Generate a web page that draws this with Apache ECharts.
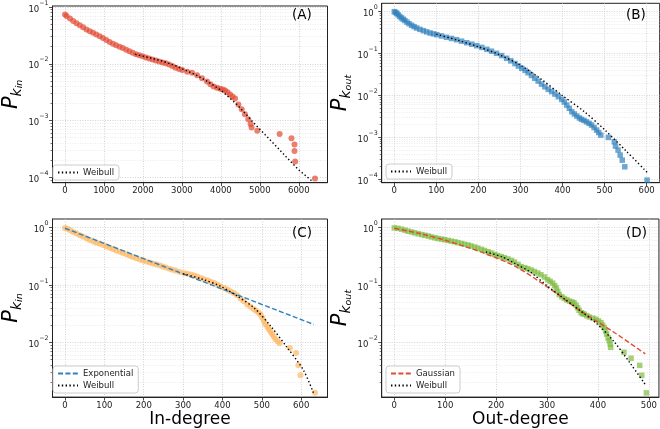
<!DOCTYPE html>
<html><head><meta charset="utf-8">
<script src="https://cdn.jsdelivr.net/npm/echarts@6/dist/echarts.min.js"></script>
<style>html,body{margin:0;padding:0;background:#fff}#c{width:660px;height:429px}</style>
</head><body><div id="c"></div>
<script>
// ---------- Panel A: in-degree (large) ----------
const degA = [0,40,127,210,295,380,465,550,636,720,804,890,974,1060,1144,1230,1312,1400,1482,1570,1653,1735,1820,1905,1991,2075,2161,2245,2329,2415,2499,2585,2670,2755,2838,2925,3008,3135,3260,3389,3515,3643,3730,3814,3900,3982,4050,4109,4170,4236,4300,4364,4449,4534,4617,4704,4762,4788,4933,5507,5812,5889,5889,5906,6415];
const probA = [0.0736,0.0692,0.0627,0.0569,0.0520,0.0476,0.0438,0.0403,0.0373,0.0351,0.0327,0.0305,0.0285,0.0263,0.0243,0.0225,0.0211,0.0200,0.0189,0.0177,0.0166,0.0156,0.0147,0.0141,0.0136,0.0129,0.0124,0.0119,0.0114,0.0110,0.01054,0.0102,0.00973,0.00912,0.00853,0.00813,0.00778,0.00724,0.00692,0.00631,0.00556,0.00488,0.00437,0.00399,0.00380,0.00365,0.00351,0.00337,0.00316,0.00287,0.00266,0.00244,0.00192,0.00158,0.00129,0.00106,0.000867,0.000757,0.00066,0.00058,0.00049,0.00038,0.00029,0.00019,0.000095];
const weibAx = [1800,2150,2500,2820,3135,3370,3600,3790,3982,4190,4400,4620,4831,5040,5250,5460,5678,6000,6357];
const weibAy = [0.0147,0.0129,0.0112,0.00933,0.00746,0.00631,0.00513,0.00427,0.0035,0.00263,0.00195,0.00135,0.000923,0.000661,0.000468,0.000331,0.000229,0.000135,0.0000841];

// ---------- Panel B: out-degree (large) ----------
const degB = [0,3,6,9,13,17,21,25,30,35,41,47,53,61,69,77,85,93,101,112,124,136,148,160,172,184,196,208,220,231,243,255,267,277,287,295,303,311,318,326,334,342,350,358,366,374,382,390,398,404,410,416,422,428,434,440,445,451,457,463,469,475,481,486,491,509,523,526,532,537,542,548,601];
const probB = [1.0,0.959,0.912,0.841,0.767,0.708,0.661,0.614,0.562,0.515,0.473,0.439,0.407,0.378,0.351,0.329,0.309,0.295,0.282,0.263,0.244,0.229,0.214,0.197,0.181,0.167,0.154,0.140,0.126,0.1135,0.101,0.0891,0.0767,0.0668,0.0575,0.0501,0.0443,0.0394,0.0348,0.0299,0.0255,0.0219,0.0186,0.0160,0.0139,0.0123,0.0107,0.00933,0.00802,0.00692,0.00586,0.0049,0.00406,0.00359,0.0032,0.00288,0.00267,0.00251,0.00233,0.00214,0.00195,0.0017,0.00148,0.00129,0.00112,0.000989,0.000776,0.000612,0.000491,0.000373,0.000283,0.000196,0.0000942];
const weibBx = [100,150,200,250,300,350,400,450,500,550,601];
const weibBy = [0.29,0.209,0.145,0.0933,0.0525,0.024,0.0098,0.0042,0.00151,0.00048,0.000145];

// ---------- Panel C: in-degree ----------
const degC = [0,6,13,21,29,38,46,55,63,72,80,88,97,105,114,122,130,139,147,156,164,172,181,190,198,206,215,223,231,240,248,256,265,273,282,292,303,311,320,328,336,345,353,362,370,379,387,395,404,412,420,429,437,446,454,463,471,480,486,492,497,501,505,509,514,518,522,526,530,534,540,545,571,587,593,598,635];
const probC = [0.989,0.951,0.902,0.841,0.789,0.738,0.692,0.646,0.607,0.573,0.545,0.521,0.498,0.471,0.447,0.424,0.401,0.380,0.362,0.343,0.325,0.309,0.292,0.279,0.267,0.256,0.246,0.238,0.230,0.220,0.210,0.201,0.192,0.184,0.177,0.169,0.161,0.157,0.153,0.147,0.140,0.132,0.126,0.1205,0.114,0.108,0.1016,0.0951,0.0891,0.0834,0.0782,0.0728,0.0661,0.0583,0.0519,0.0459,0.0417,0.0377,0.0353,0.0329,0.0302,0.027,0.0237,0.0207,0.0188,0.017,0.0154,0.01396,0.01265,0.01146,0.01047,0.00962,0.008,0.00656,0.00398,0.00267,0.00132];
const expCx = [0,632];
const expCy = [0.975,0.0205];
const weibCx = [300,349,395,438,480,522,564,606,631];
const weibCy = [0.157,0.126,0.095,0.0638,0.0401,0.0194,0.0082,0.00325,0.00132];

// ---------- Panel D: out-degree ----------
const degD = [0,7,14,21,27,34,40,47,54,60,67,73,80,86,93,99,106,112,119,125,132,138,145,151,158,164,171,177,184,190,197,203,210,216,223,230,236,243,249,256,262,269,275,282,288,295,301,306,311,315,318,321,324,329,334,339,344,349,353,357,360,363,367,370,373,378,383,390,396,401,406,409,412,415,417,420,422,424,425,451,465,482,486,495];
const probD = [0.989,0.973,0.938,0.902,0.867,0.838,0.811,0.783,0.757,0.735,0.711,0.687,0.664,0.646,0.631,0.614,0.597,0.581,0.566,0.548,0.530,0.513,0.498,0.479,0.459,0.439,0.418,0.400,0.381,0.361,0.342,0.327,0.313,0.299,0.285,0.269,0.251,0.229,0.210,0.200,0.192,0.182,0.172,0.162,0.151,0.138,0.124,0.116,0.108,0.0977,0.0887,0.0776,0.0682,0.0624,0.0583,0.055,0.0524,0.0507,0.049,0.0447,0.0401,0.0363,0.0329,0.0318,0.0309,0.0292,0.0277,0.0264,0.0253,0.0237,0.0221,0.02,0.0182,0.0158,0.01396,0.012,0.0107,0.00933,0.0082,0.00673,0.0053,0.00398,0.00267,0.00132];
const gaussDx = [0,50,99,140,177,236,301,366,432,493];
const gaussDy = [0.973,0.789,0.605,0.465,0.356,0.215,0.092,0.0352,0.0149,0.0063];
const weibDx = [180,210,236,270,301,333,366,399,432,464,494];
const weibDy = [0.376,0.313,0.24,0.161,0.095,0.0583,0.0352,0.0207,0.0102,0.00425,0.00179];

// ---------- tick labels ----------
const ticksXA = [0,1000,2000,3000,4000,5000,6000];
const ticksXB = [0,100,200,300,400,500,600];
const ticksXC = [0,100,200,300,400,500,600];
const ticksXD = [0,100,200,300,400,500];
const ticksYAB = [1e-4,1e-3,1e-2,1e-1,1];
const ticksYCD = [1e-2,1e-1,1];

const FONT = 'DejaVu Sans';
const INK = '#222';
const zip = (xs, ys) => xs.map((x, i) => [x, ys[i]]);

function logLabel(v) {
  const e = Math.round(Math.log10(v));
  return '{b|10}{e|' + (e < 0 ? '\u2212' : '') + Math.abs(e) + '}';
}

const grids = [
  {left: 49, top: 3.3, width: 278.5, height: 179.4},
  {left: 381.7, top: 3.3, width: 278, height: 179.4},
  {left: 49, top: 219, width: 278.5, height: 180},
  {left: 381.7, top: 219, width: 278, height: 180}
].map(g => Object.assign({show: true, borderColor: '#222', borderWidth: 1, backgroundColor: 'transparent'}, g));

function xAxis(i, min, max, ticks, name) {
  return {
    type: 'value', gridIndex: i, min: min, max: max,
    axisLine: {show: true, onZero: false, lineStyle: {color: INK, width: 1}},
    axisTick: {show: true, length: 3.5, customValues: ticks, lineStyle: {color: INK, width: 0.8}},
    axisLabel: {customValues: ticks, formatter: v => String(v), fontSize: 8.5, fontFamily: FONT, color: INK, margin: 4},
    splitLine: {show: true, lineStyle: {type: [1, 1.5], color: '#c8c8c8', width: 0.8}},
    name: name || '', nameLocation: 'middle', nameGap: 13,
    nameTextStyle: {fontSize: 17, fontFamily: FONT, color: '#000', verticalAlign: 'top'}
  };
}

function yName(sub) {
  return '{p|P}{k|k}{s|' + sub + '}';
}

function yAxis(i, min, max, ticks, sub) {
  return {
    type: 'log', logBase: 10, gridIndex: i, min: min, max: max,
    axisLine: {show: true, onZero: false, lineStyle: {color: INK, width: 1}},
    axisTick: {show: true, length: 3.5, customValues: ticks, lineStyle: {color: INK, width: 0.8}},
    minorTick: {show: true, splitNumber: 9, length: 2, lineStyle: {color: INK, width: 0.6}},
    axisLabel: {
      customValues: ticks, formatter: logLabel, margin: 4, color: INK,
      rich: {
        b: {fontSize: 8.5, fontFamily: FONT, color: INK, padding: [5, 0, 0, 0]},
        e: {fontSize: 6.3, fontFamily: FONT, color: INK, verticalAlign: 'top'}
      }
    },
    splitLine: {show: true, lineStyle: {type: [1, 1.5], color: '#c8c8c8', width: 0.8}},
    minorSplitLine: {show: true, lineStyle: {type: [1, 1.5], color: '#dcdcdc', width: 0.6}},
    name: yName(sub), nameLocation: 'middle', nameGap: 24, nameRotate: 90,
    nameTextStyle: {
      rich: {
        p: {fontSize: 21, fontStyle: 'italic', fontFamily: FONT, color: '#000', lineHeight: 26},
        k: {fontSize: 14, fontStyle: 'italic', fontFamily: FONT, color: '#000', verticalAlign: 'bottom', lineHeight: 15, padding: [6, 0, 0, 0]},
        s: {fontSize: 9.5, fontStyle: 'italic', fontFamily: FONT, color: '#000', verticalAlign: 'bottom', lineHeight: 10, padding: [3, 0, 0, 0]}
      }
    }
  };
}

function scatter(i, xs, ys, color, symbol) {
  return {
    type: 'scatter', xAxisIndex: i, yAxisIndex: i, data: zip(xs, ys),
    symbol: symbol, symbolSize: symbol === 'rect' ? 5.5 : 6,
    itemStyle: {color: color, opacity: 0.7}, z: 2, silent: true
  };
}

function fitLine(i, name, xs, ys, color, dash, smooth) {
  return {
    type: 'line', name: name, xAxisIndex: i, yAxisIndex: i, data: zip(xs, ys),
    symbol: 'none', showSymbol: false, legendIcon: 'none', smooth: smooth ? 0.3 : false, z: 5, silent: true,
    lineStyle: {color: color, width: 1.4, type: dash},
    itemStyle: {color: color}
  };
}

const DOT = [1.4, 2.4];
const DASH = [5, 2.4];

function legend(left, top, names) {
  return {
    data: names, left: left, top: top, orient: 'vertical',
    backgroundColor: 'rgba(255,255,255,0.85)', borderColor: '#cccccc', borderWidth: 1, borderRadius: 3,
    padding: [3, 5, 3, 4], itemWidth: 20, itemHeight: 8, itemGap: 3, selectedMode: false,
    itemStyle: {opacity: 0},
    textStyle: {fontSize: 8.5, fontFamily: FONT, color: INK}
  };
}

function panelLabel(x, y, t) {
  return {type: 'text', left: x, top: y, style: {text: t, fontSize: 13.5, fontFamily: FONT, fill: '#000'}, z: 10};
}

const option = {
  animation: false,
  grid: grids,
  xAxis: [
    xAxis(0, -321, 6736, ticksXA),
    xAxis(1, -30, 631, ticksXB),
    xAxis(2, -31.75, 666.75, ticksXC, 'In-degree'),
    xAxis(3, -24.75, 519.75, ticksXD, 'Out-degree')
  ],
  yAxis: [
    yAxis(0, 8.05e-5, 0.1042, ticksYAB, 'in'),
    yAxis(1, 8.17e-5, 1.585, ticksYAB, 'out'),
    yAxis(2, 0.001114, 1.413, ticksYCD, 'in'),
    yAxis(3, 0.001114, 1.413, ticksYCD, 'out')
  ],
  legend: [
    legend(53, 165, ['Weibull']),
    legend(386, 164, ['Weibull']),
    legend(53, 366, ['Exponential', 'Weibull']),
    legend(386, 366, ['Gaussian', 'Weibull'])
  ],
  series: [
    scatter(0, degA, probA, '#e34a33', 'circle'),
    fitLine(0, 'Weibull', weibAx, weibAy, '#000', DOT, false),
    scatter(1, degB, probB, '#3182bd', 'rect'),
    fitLine(1, 'Weibull', weibBx, weibBy, '#000', DOT, true),
    scatter(2, degC, probC, '#fdb863', 'circle'),
    fitLine(2, 'Exponential', expCx, expCy, '#3182bd', DASH, false),
    fitLine(2, 'Weibull', weibCx, weibCy, '#000', DOT, true),
    scatter(3, degD, probD, '#7fbc41', 'rect'),
    fitLine(3, 'Gaussian', gaussDx, gaussDy, '#e34a33', DASH, true),
    fitLine(3, 'Weibull', weibDx, weibDy, '#000', DOT, true)
  ],
  graphic: [
    panelLabel(292, 8, '(A)'),
    panelLabel(626, 8, '(B)'),
    panelLabel(292, 226, '(C)'),
    panelLabel(626, 226, '(D)')
  ]
};

const chart = echarts.init(document.getElementById('c'), null, {renderer: 'canvas'});
chart.setOption(option);
</script>
</body></html>
